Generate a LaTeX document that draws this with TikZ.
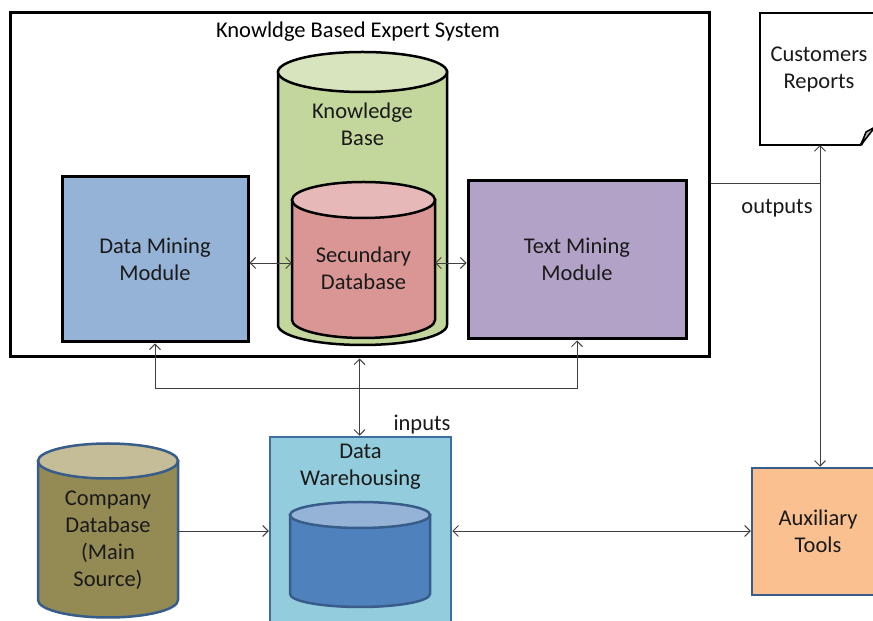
\documentclass[tikz,border=0pt]{standalone}
\usepackage{fontspec}
\setmainfont{Carlito}
\usetikzlibrary{arrows.meta}
\definecolor{dmfill}{HTML}{95B3D7}
\definecolor{tmfill}{HTML}{B3A2C7}
\definecolor{kbfill}{HTML}{C3D69B}
\definecolor{kbtop}{HTML}{D7E4BD}
\definecolor{sdfill}{HTML}{D99694}
\definecolor{sdtop}{HTML}{E6B9B8}
\definecolor{dwfill}{HTML}{93CDDD}
\definecolor{dwline}{HTML}{3D6E9E}
\definecolor{cylblue}{HTML}{4F81BD}
\definecolor{cyltop}{HTML}{95B3D7}
\definecolor{navyline}{HTML}{385D8A}
\definecolor{cdfill}{HTML}{948A54}
\definecolor{cdtop}{HTML}{C4BD97}
\definecolor{auxfill}{HTML}{FAC090}
\definecolor{txt}{HTML}{1A1A1A}
\definecolor{conn}{HTML}{404040}
\tikzset{
  lbl/.style={font=\fontsize{22.5}{27}\selectfont, text=txt, align=center, inner sep=0pt},
  thickbox/.style={draw=black, line width=3pt},
  blank/.style={draw=none, fill=none, inner sep=0pt},
  conline/.style={draw=conn, line width=0.9pt},
  tip/.style={-{Straight Barb[length=5.5pt,width=11pt]}},
  tips/.style={{Straight Barb[length=5.5pt,width=11pt]}-{Straight Barb[length=5.5pt,width=11pt]}},
}
\newcommand{\mycyl}[8]{%
  % #1 cx, #2 rx, #3 top cy, #4 bottom cy, #5 ry, #6 body, #7 top, #8 line
  \filldraw[fill=#6, draw=#8, line width=2.5pt] (#1-#2,#3) -- (#1-#2,#4)
     arc[start angle=180, end angle=360, x radius=#2, y radius=#5] -- (#1+#2,#3) -- cycle;
  \filldraw[fill=#7, draw=#8, line width=2.5pt] (#1,#3) ellipse[x radius=#2, y radius=#5];
}
\begin{document}
\begin{tikzpicture}[x=1pt,y=1pt]
\useasboundingbox (0,0) rectangle (873,621);
\clip (0,0) rectangle (873,621);
\fill[white] (0,0) rectangle (873,621);

% outer expert system box
\node[thickbox, minimum width=699pt, minimum height=344pt, inner sep=0pt] (outer) at (359.5,436) {};
\node[lbl, text=black] (title) at (358,589) {Knowldge Based Expert System};

% knowledge base cylinder
\mycyl{362.5}{84.5}{549}{296}{20}{kbfill}{kbtop}{black}
\node[lbl] (kb) at (362.5,497) {Knowledge\\Base};

% secundary database cylinder
\mycyl{363.5}{71.5}{421}{301}{18}{sdfill}{sdtop}{black}
\node[blank, minimum width=143pt, minimum height=100pt] (sd) at (363.5,358) {};
\node[lbl] (sdt) at (363.5,353) {Secundary\\Database};

% modules
\node[thickbox, fill=dmfill, minimum width=186pt, minimum height=165pt, inner sep=0pt] (dm) at (155,361.5) {};
\node[lbl] (dmt) at (155,362) {Data Mining\\Module};
\node[thickbox, fill=tmfill, minimum width=218pt, minimum height=158pt, inner sep=0pt] (tm) at (577,361) {};
\node[lbl] (tmt) at (577,362) {Text Mining\\Module};

% data warehousing
\node[draw=dwline, line width=2.5pt, fill=dwfill, minimum width=181pt, minimum height=194pt, inner sep=0pt] (dw) at (360.5,87) {};
\node[lbl] (dwt) at (360.5,154) {Data\\Warehousing};
\mycyl{360}{70}{106}{27}{13}{cylblue}{cyltop}{navyline}

% company database
\mycyl{108}{70}{160}{21}{17.5}{cdfill}{cdtop}{navyline}
\node[blank, minimum width=140pt, minimum height=175pt] (cd) at (108,90) {};
\node[lbl] (cdt) at (108,81) {Company\\Database\\(Main\\Source)};

% auxiliary tools
\node[draw=navyline, line width=2.5pt, fill=auxfill, minimum width=128pt, minimum height=127pt, inner sep=0pt] (aux) at (816,89.5) {};
\node[lbl] (auxt) at (818,90) {Auxiliary\\Tools};

% customers reports (document)
\node[blank, minimum width=120pt, minimum height=132pt] (rep) at (820,542) {};
\fill[white] (760,476) rectangle (880,608);
\draw[black, line width=2.5pt, line join=miter] (861,476) -- (760,476) -- (760,608) -- (880,608);
\draw[black, line width=2.5pt, line join=round] (861,476) -- (867,488) -- (875,493);
\filldraw[fill=gray!60, draw=black, line width=1.5pt, line join=round] (861,476) -- (866,489) -- (875,494) -- cycle;
\node[lbl] (rept) at (819,551) {Customers\\Reports};

% connectors
\coordinate (j) at (360,233);
\coordinate (o) at (820,438);
\draw[conline, tips] (sd.west -| dm.east) -- (sd.west);
\draw[conline, tips] (sd.east) -- (sd.east -| tm.west);
\draw[conline, tip] (j) -| (dm.south);
\draw[conline, tip] (j) -| (tm.south);
\draw[conline, tips] (outer.south) -- (outer.south |- dw.north);
\draw[conline] (outer.east |- o) -- (o);
\draw[conline, tips] (o |- rep.south) -- (o |- aux.north);
\draw[conline, tip] (cd.east) -- (cd.east -| dw.west);
\draw[conline, tips] (dw.east |- cd.east) -- (aux.west |- cd.east);

\node[lbl] (inputs) at (422,196) {inputs};
\node[lbl] (outputs) at (777,413) {outputs};
\end{tikzpicture}
\end{document}
